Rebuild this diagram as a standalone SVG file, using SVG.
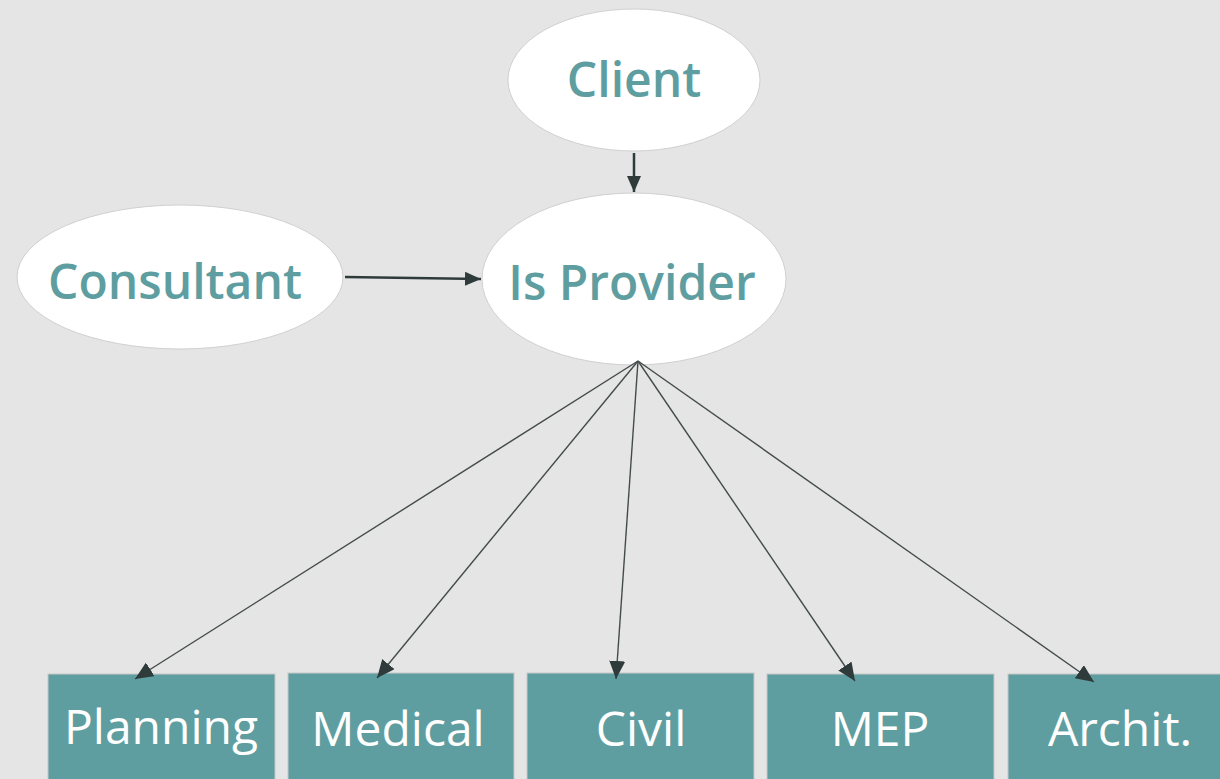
<svg xmlns="http://www.w3.org/2000/svg" width="1220" height="779" viewBox="0 0 1220 779">
<style>
.ell{fill:#ffffff;stroke:#d0d0d0;stroke-width:1}
.et{font-family:"Open Sans","Noto Sans",sans-serif;font-weight:600;font-size:48px;fill:#5F9EA0;text-anchor:middle}
.box{fill:#5F9EA0;stroke:#c8c8c8;stroke-width:1}
.bt{font-family:"Open Sans","Noto Sans",sans-serif;font-weight:400;font-size:48px;fill:#ffffff;text-anchor:middle}
.c1{stroke:#2f3b3b;stroke-width:2.5;fill:none}
.c2{stroke:#444b4b;stroke-width:1.4;fill:none}
</style>
<defs>
<marker id="ah" markerUnits="userSpaceOnUse" markerWidth="17" markerHeight="15" refX="16" refY="7" orient="auto">
<path d="M0,0 L16,7 L0,14 z" fill="#2f3b3b"/>
</marker>
<marker id="ah2" markerUnits="userSpaceOnUse" markerWidth="19" markerHeight="17" refX="18" refY="8" orient="auto">
<path d="M0,0 L18,8 L0,16 z" fill="#2f3b3b"/>
</marker>
</defs>
<rect width="1220" height="779" fill="#e5e5e5"/>
<g id="client">
<ellipse class="ell" cx="634" cy="80" rx="126" ry="71"/>
<text class="et" x="634" y="97">Client</text>
</g>
<g id="provider">
<ellipse class="ell" cx="634" cy="279" rx="152" ry="86"/>
<text class="et" x="632" y="300">Is Provider</text>
</g>
<g id="consultant">
<ellipse class="ell" cx="180" cy="277" rx="163" ry="72"/>
<text class="et" x="175" y="299">Consultant</text>
</g>
<g id="planning">
<rect class="box" x="48" y="674" width="227" height="120"/>
<text class="bt" x="161" y="744">Planning</text>
</g>
<g id="medical">
<rect class="box" x="288" y="673" width="226" height="120"/>
<text class="bt" x="398" y="746">Medical</text>
</g>
<g id="civil">
<rect class="box" x="527" y="673" width="227" height="120"/>
<text class="bt" x="641" y="746">Civil</text>
</g>
<g id="mep">
<rect class="box" x="767" y="674" width="227" height="120"/>
<text class="bt" x="880" y="746">MEP</text>
</g>
<g id="archit">
<rect class="box" x="1008" y="674" width="227" height="120"/>
<text class="bt" x="1120" y="746">Archit.</text>
</g>
<g id="connectors">
<line class="c1" x1="634" y1="153" x2="634" y2="192" marker-end="url(#ah)"/>
<line class="c1" x1="345" y1="277" x2="481" y2="279" marker-end="url(#ah)"/>
<line class="c2" x1="638" y1="361" x2="135" y2="679" marker-end="url(#ah2)"/>
<line class="c2" x1="638" y1="361" x2="377" y2="678" marker-end="url(#ah2)"/>
<line class="c2" x1="638" y1="361" x2="616" y2="679" marker-end="url(#ah2)"/>
<line class="c2" x1="638" y1="361" x2="855" y2="681" marker-end="url(#ah2)"/>
<line class="c2" x1="638" y1="361" x2="1094" y2="682" marker-end="url(#ah2)"/>
</g>
</svg>
